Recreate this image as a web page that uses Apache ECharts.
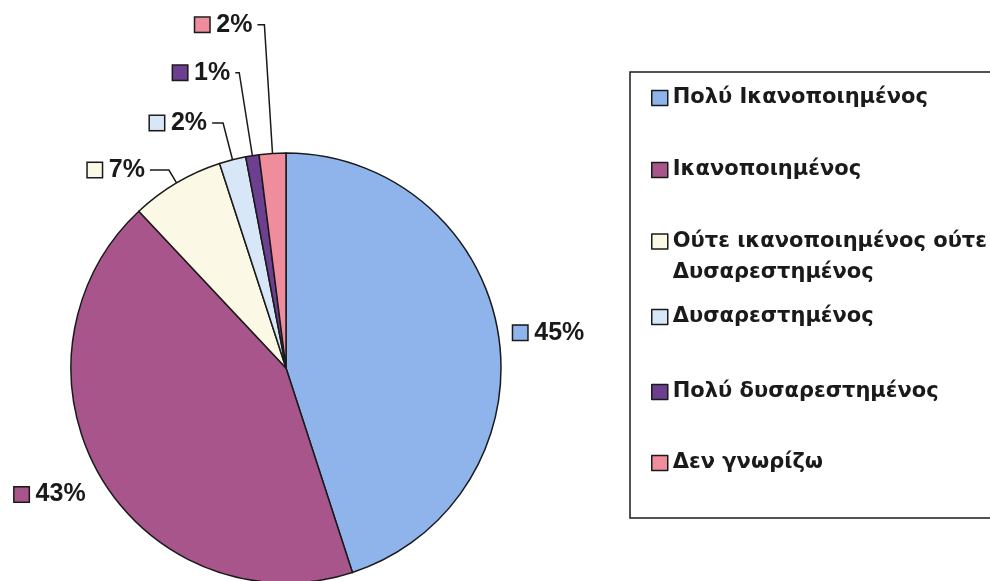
<!DOCTYPE html>
<html>
<head>
<meta charset="utf-8">
<title>Ικανοποίηση</title>
<script src="https://cdn.jsdelivr.net/npm/echarts@6/dist/echarts.min.js"></script>
<style>
  html, body { margin: 0; padding: 0; background: #ffffff; }
  #chart { width: 990px; height: 581px; }
</style>
</head>
<body>
<div id="chart"></div>
<script>
// slices, clockwise from 12 o'clock (same order as the legend)
const categories = [
    'Πολύ Ικανοποιημένος',
    'Ικανοποιημένος',
    'Ούτε ικανοποιημένος ούτε\nΔυσαρεστημένος',
    'Δυσαρεστημένος',
    'Πολύ δυσαρεστημένος',
    'Δεν γνωρίζω'
];
const percents = [45, 43, 7, 2, 1, 2];
const colors = ['#8fb4ec', '#a8558b', '#fbf9e6', '#d8e7f8', '#6c3f90', '#ef8d9d'];

// leader lines: radial part, then horizontal part
const lineLen = [10, 12, 15, 38, 84, 129];
const lineLen2 = [0, 0, 19, 11, 4, 7];

// top of each legend row
const legendTop = [86, 158, 195, 305, 380, 451];

const font = "'Liberation Sans', Arial, sans-serif";
const legendFont = "'DejaVu Sans', Verdana, sans-serif";
const ink = '#1a1a1a';

let chart = echarts.init(document.getElementById('chart'));

// little coloured squares in front of the percentages
let rich = {
    v: { fontFamily: font, fontSize: 25, fontWeight: 'bold', color: ink, padding: [0, 0, 0, 7] }
};
colors.forEach(function (c, i) {
    rich['s' + i] = { width: 14, height: 14, backgroundColor: c, borderColor: ink, borderWidth: 1.5 };
});

// one legend per row so the rows sit where the original has them
let legends = categories.map(function (name, i) {
    let twoLines = name.indexOf('\n') >= 0;
    return {
        orient: 'vertical',
        left: 651,
        top: legendTop[i],
        padding: 0,
        data: [name],
        icon: 'rect',
        itemWidth: 16,
        itemHeight: 15,
        itemStyle: { borderColor: ink, borderWidth: 1.5 },
        selectedMode: false,
        // an empty first line keeps the square level with the first text line
        formatter: twoLines ? function (n) { return '\n' + n; } : '{name}',
        textStyle: {
            fontFamily: legendFont,
            fontSize: 21,
            fontWeight: 'bold',
            color: ink,
            lineHeight: twoLines ? 31 : 24
        }
    };
});

chart.setOption({
    backgroundColor: '#ffffff',
    animation: false,
    color: colors,
    graphic: [{ // legend frame
        type: 'rect',
        shape: { x: 630, y: 72, width: 400, height: 446 },
        style: { fill: 'transparent', stroke: ink, lineWidth: 1.5 },
        z: 0
    }],
    legend: legends,
    series: [{
        type: 'pie',
        radius: 215,
        center: [286, 368],
        startAngle: 90,
        clockwise: true,
        avoidLabelOverlap: false,
        silent: true,
        itemStyle: { borderColor: ink, borderWidth: 1.5 },
        label: {
            position: 'outside',
            formatter: function (p) { return '{s' + p.dataIndex + '|}{v|' + p.value + '%}'; },
            rich: rich
        },
        labelLine: {
            lineStyle: { color: ink, width: 1.5 }
        },
        emphasis: { disabled: true },
        data: categories.map(function (name, i) {
            let item = {
                name: name,
                value: percents[i],
                labelLine: { show: i >= 2, length: lineLen[i], length2: lineLen2[i] }
            };
            if (i === 1) item.label = { padding: [22, 0, 0, 0] };
            return item;
        })
    }]
});
</script>
</body>
</html>
